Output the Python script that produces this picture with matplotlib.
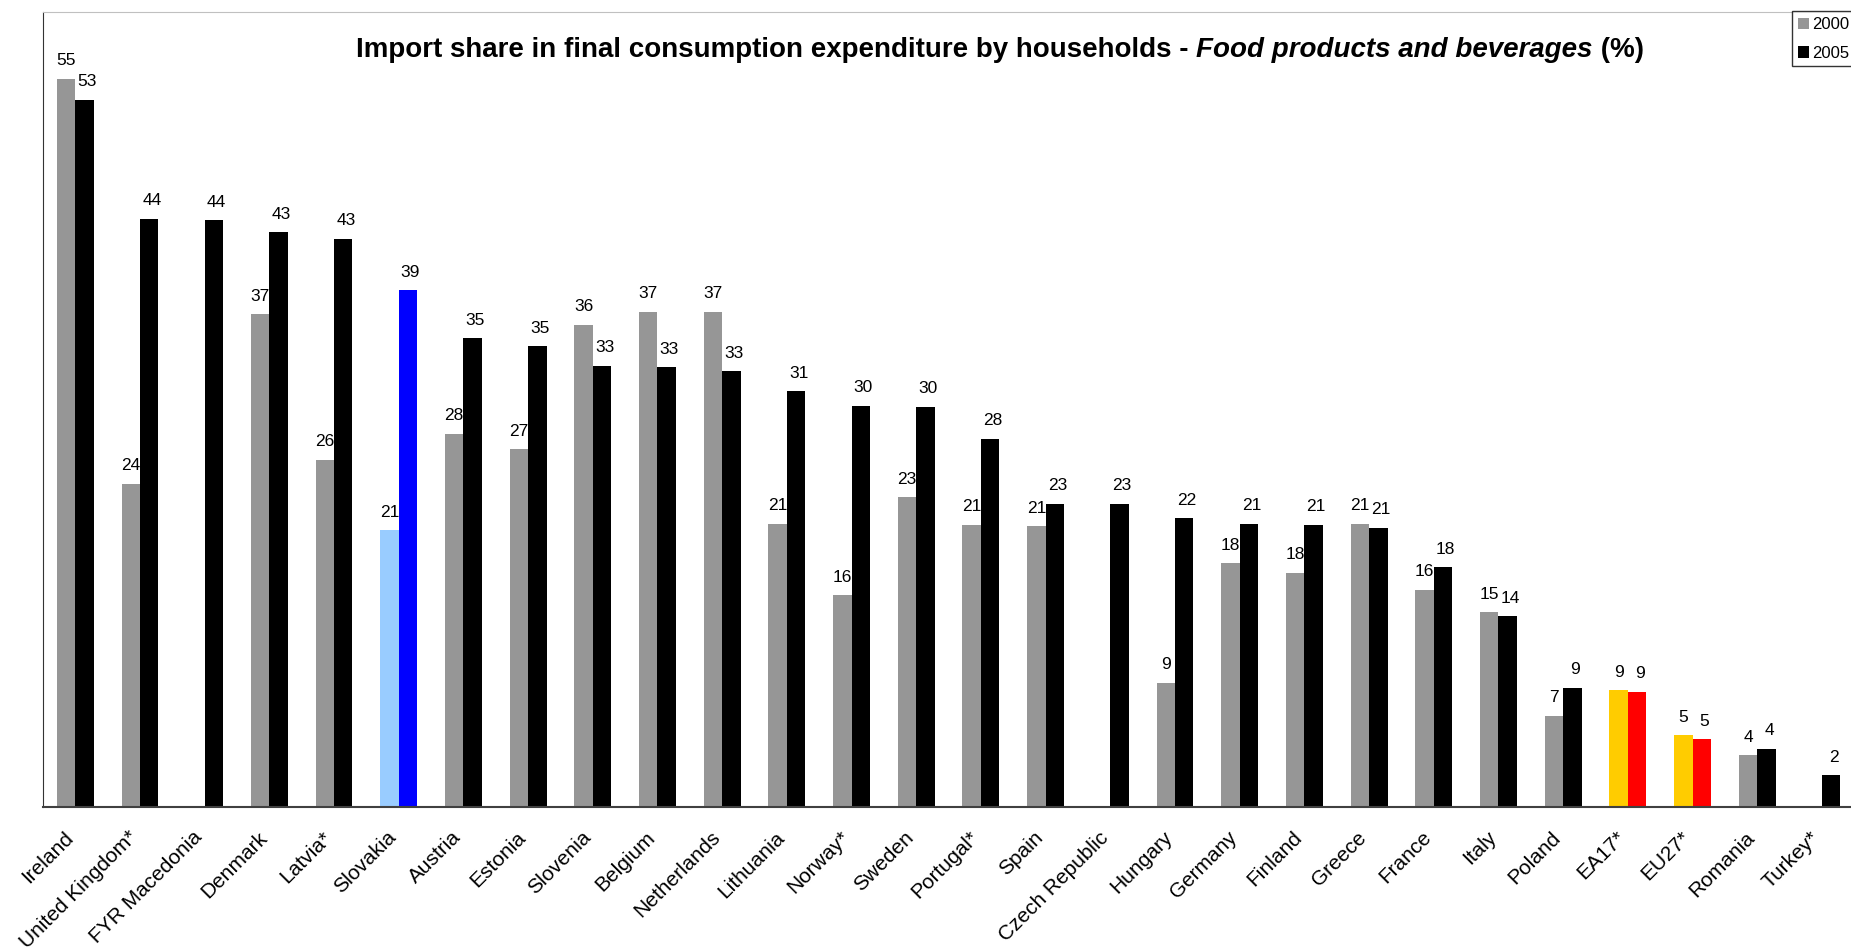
import numpy as np
from matplotlib import pyplot as plt
from matplotlib import transforms

plt.rcParams['font.family'] = ['Liberation Sans', 'DejaVu Sans']

countries = ['Ireland', 'United Kingdom*', 'FYR Macedonia', 'Denmark', 'Latvia*', 'Slovakia',
             'Austria', 'Estonia', 'Slovenia', 'Belgium', 'Netherlands', 'Lithuania', 'Norway*',
             'Sweden', 'Portugal*', 'Spain', 'Czech Republic', 'Hungary', 'Germany', 'Finland',
             'Greece', 'France', 'Italy', 'Poland', 'EA17*', 'EU27*', 'Romania', 'Turkey*']
y2000 = [55.0, 24.4, np.nan, 37.2, 26.2, 20.9, 28.2, 27.0, 36.4, 37.4, 37.4, 21.4, 16.0,
         23.4, 21.3, 21.2, np.nan, 9.4, 18.4, 17.7, 21.4, 16.4, 14.7, 6.9, 8.8, 5.4, 3.9, np.nan]
y2005 = [53.4, 44.4, 44.3, 43.4, 42.9, 39.0, 35.4, 34.8, 33.3, 33.2, 32.9, 31.4, 30.3,
         30.2, 27.8, 22.9, 22.9, 21.8, 21.4, 21.3, 21.1, 18.1, 14.4, 9.0, 8.7, 5.1, 4.4, 2.4]

# highlight colours for Slovakia and the aggregates
c2000 = ['#969696'] * len(countries)
c2005 = ['#000000'] * len(countries)
c2000[5], c2005[5] = '#99ccff', '#0000ff'
for k in (24, 25):
    c2000[k], c2005[k] = '#ffcc00', '#ff0000'

fig = plt.figure(figsize=(18.51, 9.51), dpi=100)
ax = fig.add_axes([0.0232, 0.1514, 0.9768, 0.8356])

x = np.arange(len(countries))
w = 0.285
ax.bar(x - w / 2, y2000, width=w, color=c2000, label='2000')
ax.bar(x + w / 2, y2005, width=w, color=c2005, label='2005')

for xi, v in zip(x, y2000):
    if not np.isnan(v):
        ax.text(xi - w / 2, v + 0.8, f'{v:.0f}', ha='center', va='bottom', fontsize=12.5)
for xi, v in zip(x, y2005):
    if not np.isnan(v):
        ax.text(xi + w / 2 + 0.04, v + 0.8, f'{v:.0f}', ha='center', va='bottom', fontsize=12.5)

ax.set_xlim(-0.5, 27.45)
ax.set_ylim(0, 60)
ax.set_yticks([])
ax.set_xticks(x)
ax.set_xticklabels(countries, rotation=45, ha='right', rotation_mode='anchor', fontsize=15)
ax.tick_params(axis='x', length=0, pad=15)
shift = transforms.ScaledTranslation(-0.12, 0, fig.dpi_scale_trans)
for lab in ax.get_xticklabels():
    lab.set_transform(lab.get_transform() + shift)

ax.spines['left'].set_color('#333333')
ax.spines['bottom'].set_color('#404040')
ax.spines['bottom'].set_linewidth(1.5)
ax.spines['top'].set_color('#c0c0c0')
ax.spines['right'].set_visible(False)

# title in three pieces (italic middle part), chained left to right
parts = [('Import share in final consumption expenditure by households - ', 'normal'),
         ('Food products and beverages', 'italic'),
         (' (%)', 'normal')]
fig.canvas.draw()
r = fig.canvas.get_renderer()
texts = [fig.text(0, 0.947, s, va='center', fontsize=20, fontweight='bold', style=st) for s, st in parts]
widths = [t.get_window_extent(r).width for t in texts]
xpos = 1000 - sum(widths) / 2
for t, wd in zip(texts, widths):
    t.set_x(xpos / fig.bbox.width)
    xpos += wd

leg = fig.legend(loc='upper left', bbox_to_anchor=(0.968, 0.988), fontsize=12, frameon=True,
                 fancybox=False, edgecolor='black', handlelength=0.7, handleheight=0.7,
                 handletextpad=0.2, borderpad=0.35, labelspacing=0.8, borderaxespad=0)
leg.get_frame().set_linewidth(1)

fig.savefig('out.png', dpi=100)
